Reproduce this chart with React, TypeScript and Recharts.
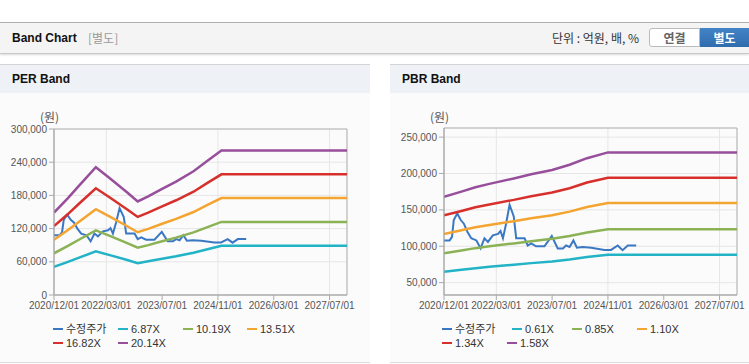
import React from 'react';
import { LineChart, Line, XAxis, YAxis, CartesianGrid, ReferenceArea } from 'recharts';

// month index counted from 2020/12
const xTickMonths = [0, 15, 31, 47, 63, 79];
const xTickLabels = ['2020/12/01', '2022/03/01', '2023/07/01', '2024/11/01', '2026/03/01', '2027/07/01'];

// 수정주가 (shared by both charts)
const priceMonths = [0, 1.6, 2.3, 2.8, 3.8, 4.8, 5.7, 6.7, 7.8, 9.3, 10.5, 11.6, 12.6, 14, 15.5, 16.2, 16.9, 17.8, 18.8, 20, 20.7, 22.1, 23.1, 24, 25, 26.4, 28.8, 30.9, 32.6, 34.1, 35, 36, 37.1, 38.1, 39.8, 42.2, 46, 47.9, 49.8, 51.2, 52.7, 55.1];
const priceValues = [108000, 108000, 113000, 136000, 145000, 136000, 131000, 120000, 111000, 108000, 97000, 111000, 106000, 115000, 117000, 121000, 111000, 131000, 157000, 141000, 111000, 111000, 111000, 101000, 104000, 100000, 100000, 114000, 97000, 97000, 101000, 99000, 108000, 98000, 99000, 98000, 95000, 95000, 101000, 94600, 101000, 101000];

// PER band
const perMonths = [0, 4, 7, 12, 16, 21, 24, 27, 31, 35, 40, 44, 48, 84];
const per687 = [50800, 59800, 67000, 78800, 72000, 63200, 57600, 60800, 65500, 69900, 76300, 82800, 89000, 89000];
const per1019 = [75400, 88700, 99400, 116900, 106800, 93700, 85500, 90200, 97100, 103700, 113100, 122800, 132100, 132100];
const per1351 = [100000, 117500, 131700, 155000, 141600, 124300, 113400, 119600, 128700, 137500, 150000, 162800, 175100, 175100];
const per1682 = [124500, 146300, 164000, 192900, 176300, 154700, 141100, 148900, 160300, 171200, 186700, 202700, 218000, 218000];
const per2014 = [149000, 175200, 196400, 231000, 211100, 185300, 169000, 178200, 191900, 205000, 223600, 242700, 261000, 261000];
const perTicks = [0, 60000, 120000, 180000, 240000, 300000];

// PBR band
const pbrMonths = [0, 5, 9, 13, 20, 25, 31, 36, 41, 47, 84];
const pbr061 = [64800, 67600, 69900, 71700, 74500, 76800, 79100, 81900, 85300, 88400, 88400];
const pbr085 = [90400, 94200, 97400, 99900, 103900, 107000, 110200, 114100, 118900, 123200, 123200];
const pbr110 = [116900, 121900, 126100, 129300, 134400, 138500, 142700, 147600, 153900, 159400, 159400];
const pbr134 = [142400, 148500, 153600, 157500, 163700, 168700, 173800, 179800, 187500, 194200, 194200];
const pbr158 = [168000, 175100, 181100, 185700, 193100, 198900, 204900, 212000, 221000, 229000, 229000];
const pbrTicks = [50000, 100000, 150000, 200000, 250000];

const colors = {
    price: '#3b78c4',
    c1: '#22b3c6',
    c2: '#8cb256',
    c3: '#f4a430',
    c4: '#d7302c',
    c5: '#984f9b',
};

const toSeries = (months: number[], values: number[]) => months.map((m, i) => ({ m, v: values[i] }));

const numFont = '"Liberation Sans", Arial, "Noto Sans CJK KR", sans-serif';
const korFont = '"Noto Sans CJK KR", "Liberation Sans", sans-serif';

interface BandSeries {
    name: string;
    color: string;
    data: { m: number; v: number }[];
}

interface BandChartProps {
    width: number;
    marginRight: number;
    marginTop: number;
    domain: [number, number];
    ticks: number[];
    series: BandSeries[];
}

const BandChart: React.FC<BandChartProps> = ({ width, marginRight, marginTop, domain, ticks, series }) => (
    <LineChart width={width} height={215} margin={{ top: marginTop, right: marginRight, bottom: 0, left: 0 }}>
        <CartesianGrid stroke="#e6e6e6" />
        <XAxis
            type="number"
            dataKey="m"
            domain={[0, 84]}
            ticks={xTickMonths}
            tickFormatter={(m: number) => xTickLabels[xTickMonths.indexOf(m)]}
            stroke="#aaaaaa"
            tickSize={5}
            tick={{ fontSize: 10, fill: '#555', fontFamily: numFont }}
            height={20}
            allowDataOverflow
        />
        <YAxis
            type="number"
            domain={domain}
            ticks={ticks}
            tickFormatter={(v: number) => v.toLocaleString('en-US')}
            stroke="#aaaaaa"
            tickSize={5}
            tick={{ fontSize: 10, fill: '#555', fontFamily: numFont }}
            width={54}
            allowDataOverflow
        />
        <ReferenceArea x1={0} x2={84} y1={domain[0]} y2={domain[1]} fill="none" stroke="#b3b3b3" />
        {series.map((s) => (
            <Line
                key={s.name}
                data={s.data}
                dataKey="v"
                name={s.name}
                type="linear"
                stroke={s.color}
                strokeWidth={s.name === '수정주가' ? 2 : 2.5}
                dot={false}
                isAnimationActive={false}
            />
        ))}
    </LineChart>
);

const LegendBox: React.FC<{ items: { name: string; color: string; x: number; y: number }[] }> = ({ items }) => (
    <>
        {items.map((it) => (
            <div
                key={it.name}
                style={{
                    position: 'absolute',
                    left: it.x,
                    top: it.y,
                    height: 12,
                    display: 'flex',
                    alignItems: 'center',
                    fontSize: 11,
                    color: '#333',
                    fontFamily: numFont,
                    lineHeight: '12px',
                    whiteSpace: 'nowrap',
                }}
            >
                <span style={{ display: 'inline-block', width: 10, height: 2.5, background: it.color, marginRight: 3 }} />
                {it.name}
            </div>
        ))}
    </>
);

const priceSeries = toSeries(priceMonths, priceValues);

const perSeries: BandSeries[] = [
    { name: '수정주가', color: colors.price, data: priceSeries },
    { name: '6.87X', color: colors.c1, data: toSeries(perMonths, per687) },
    { name: '10.19X', color: colors.c2, data: toSeries(perMonths, per1019) },
    { name: '13.51X', color: colors.c3, data: toSeries(perMonths, per1351) },
    { name: '16.82X', color: colors.c4, data: toSeries(perMonths, per1682) },
    { name: '20.14X', color: colors.c5, data: toSeries(perMonths, per2014) },
];

const pbrSeries: BandSeries[] = [
    { name: '수정주가', color: colors.price, data: priceSeries },
    { name: '0.61X', color: colors.c1, data: toSeries(pbrMonths, pbr061) },
    { name: '0.85X', color: colors.c2, data: toSeries(pbrMonths, pbr085) },
    { name: '1.10X', color: colors.c3, data: toSeries(pbrMonths, pbr110) },
    { name: '1.34X', color: colors.c4, data: toSeries(pbrMonths, pbr134) },
    { name: '1.58X', color: colors.c5, data: toSeries(pbrMonths, pbr158) },
];

// legend slots: [x, y] per item
const perLegendPos = [[53, 323], [118, 323], [183, 323], [247, 323], [53, 337], [118, 337]];
const pbrLegendPos = [[442, 323], [512, 323], [572, 323], [637, 323], [442, 337], [507, 337]];

const Panel: React.FC<{ left: number; width: number; title: string }> = ({ left, width, title }) => (
    <div style={{ position: 'absolute', left, top: 64, width, height: 300, background: '#fbfbfb' }}>
        <div style={{ height: 1, background: '#d4d4d4' }} />
        <div
            style={{
                height: 28,
                background: '#eef2f7',
                fontFamily: numFont,
                fontWeight: 'bold',
                fontSize: 12,
                color: '#111',
                lineHeight: '28px',
                paddingLeft: 12,
            }}
        >
            {title}
        </div>
        <div style={{ position: 'absolute', left: 0, right: 0, top: 298, height: 1, background: '#dcdcdc' }} />
    </div>
);

export default function App() {
    return (
        <div style={{ position: 'absolute', left: 0, top: 0, width: 749, height: 364, background: '#fff', overflow: 'hidden' }}>
            {/* header bar */}
            <div
                style={{
                    position: 'absolute',
                    left: 0,
                    top: 22,
                    width: 749,
                    height: 30,
                    background: '#f4f4f4',
                    borderTop: '1px solid #b0b0b0',
                    borderBottom: '1px solid #c8c8c8',
                    boxShadow: '0 1px 2px rgba(0,0,0,0.15)',
                }}
            >
                <span style={{ position: 'absolute', left: 12, top: 8, fontFamily: numFont, fontWeight: 'bold', fontSize: 12, color: '#111' }}>
                    Band Chart
                </span>
                <span style={{ position: 'absolute', left: 88, top: 7, fontFamily: korFont, fontSize: 12, lineHeight: '16px', color: '#999' }}>
                    [별도]
                </span>
                <span style={{ position: 'absolute', left: 552, top: 7, fontFamily: korFont, fontSize: 12, lineHeight: '16px', color: '#333' }}>
                    단위 : 억원, 배, %
                </span>
                <div
                    style={{
                        position: 'absolute',
                        left: 649,
                        top: 5,
                        width: 51,
                        height: 19,
                        boxSizing: 'border-box',
                        border: '1px solid #bbb',
                        borderRadius: '3px 0 0 3px',
                        background: '#fff',
                        textAlign: 'center',
                        fontFamily: korFont,
                        fontWeight: 'bold',
                        fontSize: 12,
                        lineHeight: '17px',
                        color: '#666',
                    }}
                >
                    연결
                </div>
                <div
                    style={{
                        position: 'absolute',
                        left: 700,
                        top: 5,
                        width: 49,
                        height: 19,
                        background: 'linear-gradient(#4384c6, #2f6cae)',
                        textAlign: 'center',
                        fontFamily: korFont,
                        fontWeight: 'bold',
                        fontSize: 12,
                        lineHeight: '19px',
                        color: '#fff',
                    }}
                >
                    별도
                </div>
            </div>

            <Panel left={0} width={370} title="PER Band" />
            <Panel left={390} width={359} title="PBR Band" />

            <div style={{ position: 'absolute', left: 40, top: 109, fontFamily: korFont, fontSize: 12, lineHeight: '16px', color: '#555' }}>(원)</div>
            <div style={{ position: 'absolute', left: 430, top: 109, fontFamily: korFont, fontSize: 12, lineHeight: '16px', color: '#555' }}>(원)</div>

            <div style={{ position: 'absolute', left: 0, top: 100 }}>
                <BandChart width={370} marginRight={23} marginTop={29} domain={[0, 300000]} ticks={perTicks} series={perSeries} />
            </div>
            <div style={{ position: 'absolute', left: 390, top: 100 }}>
                <BandChart width={359} marginRight={12} marginTop={28} domain={[33000, 262500]} ticks={pbrTicks} series={pbrSeries} />
            </div>

            <LegendBox items={perSeries.map((s, i) => ({ name: s.name, color: s.color, x: perLegendPos[i][0], y: perLegendPos[i][1] }))} />
            <LegendBox items={pbrSeries.map((s, i) => ({ name: s.name, color: s.color, x: pbrLegendPos[i][0], y: pbrLegendPos[i][1] }))} />
        </div>
    );
}
